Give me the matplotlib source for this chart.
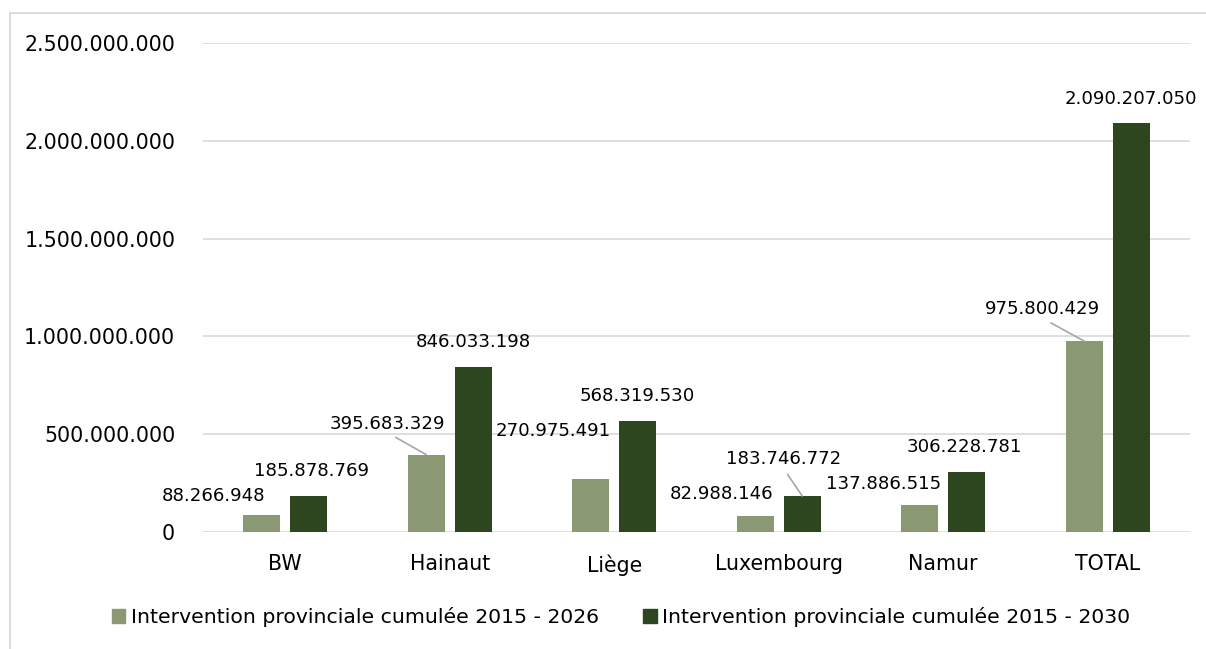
import numpy as np
import matplotlib.pyplot as plt
from matplotlib.lines import Line2D
from matplotlib.patches import Patch
from matplotlib.ticker import FuncFormatter

#===============================================================#
## data
provinces = ["BW", "Hainaut", "Liège", "Luxembourg", "Namur", "TOTAL"]
cumul_2026 = [88266948, 395683329, 270975491, 82988146, 137886515, 975800429]
cumul_2030 = [185878769, 846033198, 568319530, 183746772, 306228781, 2090207050]
series_names = ["Intervention provinciale cumulée 2015 - 2026",
                "Intervention provinciale cumulée 2015 - 2030"]
yticks = [0, 500000000, 1000000000, 1500000000, 2000000000, 2500000000]

## label placement (pixels from bar top) and leader lines
off_2026 = [(-48, 19), (-39, 31), (-38, 48), (-34, 22), (-36, 21), (-42, 32)]
off_2030 = [(3, 25), (0, 25), (-1, 25), (-19, 37), (-2, 25), (0, 24)]
lead_2026 = [False, True, False, False, False, True]
lead_2030 = [False, False, False, True, False, False]

c_light = "#8A9873"
c_dark = "#2E461F"
c_grid = "#D9D9D9"

def fmt(v):
    return f"{v:,.0f}".replace(",", ".")

#=====================Visualization=========================#
fig = plt.figure(figsize=(12.06, 6.49), dpi=100)
ax = fig.add_axes([203 / 1206, 1 - 532 / 649, (1190 - 203) / 1206, (532 - 43) / 649])

x = np.arange(len(provinces))
w = 0.225
d = 0.143
bars1 = ax.bar(x - d, cumul_2026, w, color=c_light, zorder=3)
bars2 = ax.bar(x + d, cumul_2030, w, color=c_dark, zorder=3)

ax.set_xlim(-0.5, len(provinces) - 0.5)
ax.set_ylim(0, 2500000000)
ax.set_yticks(yticks)
ax.yaxis.set_major_formatter(FuncFormatter(lambda v, p: fmt(v)))
ax.set_xticks(x)
ax.set_xticklabels(provinces)
ax.tick_params(axis='both', length=0, labelsize=14.8, colors='#000000')
ax.tick_params(axis='y', pad=20)
ax.tick_params(axis='x', pad=16)
ax.grid(axis='y', color=c_grid, lw=1.2, zorder=0)
for s in ax.spines.values():
    s.set_visible(False)

def label_bars(bars, vals, offs, leads):
    for b, v, o, l in zip(bars, vals, offs, leads):
        xy = (b.get_x() + b.get_width() / 2, v)
        ap = None
        if l:
            ap = dict(arrowstyle='-', color='#A6A6A6', lw=1.2, shrinkA=3, shrinkB=0,
                      relpos=(0.5, 0))
        ax.annotate(fmt(v), xy=xy, xytext=o, textcoords='offset pixels',
                    ha='center', va='center', fontsize=13.1, arrowprops=ap,
                    annotation_clip=False)

label_bars(bars1, cumul_2026, off_2026, lead_2026)
label_bars(bars2, cumul_2030, off_2030, lead_2030)

handles = [Patch(color=c_light), Patch(color=c_dark)]
fig.legend(handles, series_names, loc='center', bbox_to_anchor=(0.515, 1 - 617 / 649),
           ncol=2, frameon=False, fontsize=14.7, handlelength=0.68, handleheight=0.68,
           handletextpad=0.25, columnspacing=2.2)

## chart border (top and left edges)
fig.add_artist(Line2D([10 / 1206, 1], [1 - 13 / 649] * 2, color=c_grid, lw=1.3))
fig.add_artist(Line2D([10 / 1206] * 2, [0, 1 - 13 / 649], color=c_grid, lw=1.3))

plt.savefig("out.png", dpi=100)
